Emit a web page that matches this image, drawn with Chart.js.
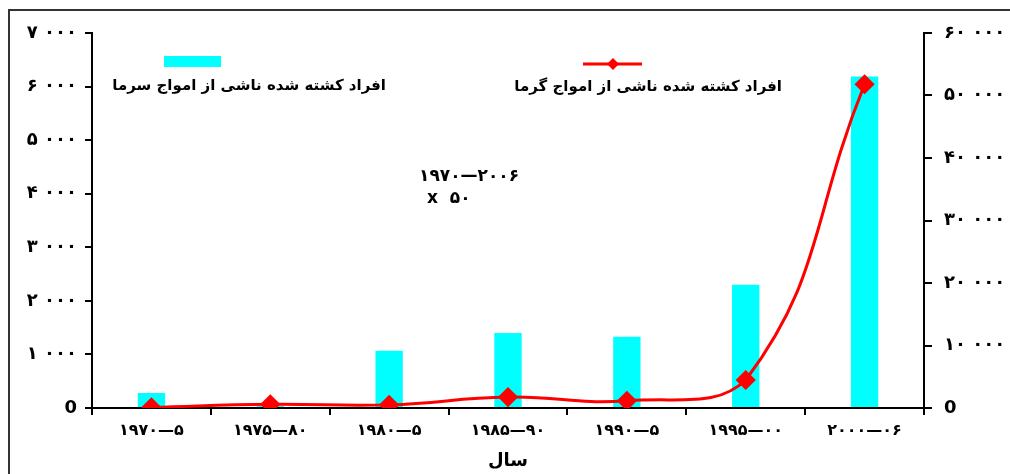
<!DOCTYPE html>
<html>
<head>
<meta charset="utf-8">
<script src="https://cdn.jsdelivr.net/npm/chart.js@4.4.0/dist/chart.umd.min.js"></script>
<style>
  html, body { margin: 0; padding: 0; background: #fff; overflow: hidden; }
  #wrap { width: 1010px; height: 474px; position: relative; }
</style>
</head>
<body>
<div id="wrap"><canvas id="chart"></canvas></div>
<script>
// data
var categories = ['۱۹۷۰—۵', '۱۹۷۵—۸۰', '۱۹۸۰—۵', '۱۹۸۵—۹۰', '۱۹۹۰—۵', '۱۹۹۵—۰۰', '۲۰۰۰—۰۶'];
var coldDeaths = [280, 40, 1070, 1400, 1330, 2300, 6190];
var heatDeaths = [100, 600, 500, 1750, 1150, 4480, 51800];
var leftTicks = ['0', '۱ ۰۰۰', '۲ ۰۰۰', '۳ ۰۰۰', '۴ ۰۰۰', '۵ ۰۰۰', '۶ ۰۰۰', '۷ ۰۰۰'];
var rightTicks = ['0', '۱۰ ۰۰۰', '۲۰ ۰۰۰', '۳۰ ۰۰۰', '۴۰ ۰۰۰', '۵۰ ۰۰۰', '۶۰ ۰۰۰'];
var coldName = 'افراد کشته شده ناشی از امواج سرما';
var heatName = 'افراد کشته شده ناشی از امواج گرما';
var noteLines = ['۱۹۷۰—۲۰۰۶', 'x  ۵۰'];
var xTitle = 'سال';

var FONT = '"DejaVu Sans", sans-serif';

var extras = {
    id: 'extras',
    beforeDraw: function (chart) {
        var c = chart.ctx;
        c.save();
        c.fillStyle = '#fff';
        c.fillRect(0, 0, chart.width, chart.height);
        // frame (left and top only, the rest is cut off)
        c.strokeStyle = '#333';
        c.lineWidth = 2;
        c.beginPath();
        c.moveTo(9, 474);
        c.lineTo(9, 10);
        c.lineTo(1010, 10);
        c.stroke();
        c.restore();
    },
    afterDraw: function (chart) {
        var c = chart.ctx;
        c.save();
        // legend: cold
        c.fillStyle = '#00ffff';
        c.fillRect(164, 56, 57, 11);
        // legend: heat
        c.strokeStyle = '#ff0000';
        c.lineWidth = 3;
        c.beginPath();
        c.moveTo(583, 64);
        c.lineTo(642, 64);
        c.stroke();
        c.fillStyle = '#ff0000';
        c.beginPath();
        c.moveTo(613, 58); c.lineTo(619, 64); c.lineTo(613, 70); c.lineTo(607, 64);
        c.closePath();
        c.fill();

        c.fillStyle = '#000';
        c.font = 'bold 15px ' + FONT;
        c.textBaseline = 'middle';
        c.direction = 'rtl';
        c.textAlign = 'right';
        c.fillText(coldName, 386, 86);
        c.fillText(heatName, 782, 87);

        c.direction = 'ltr';
        c.textAlign = 'left';
        c.font = 'bold 17px ' + FONT;
        c.fillText(noteLines[0], 419, 177);
        c.fillText(noteLines[1], 427, 199);
        c.restore();
    }
};

var ctx = document.getElementById('chart');
var chart = new Chart(ctx, {
    type: 'bar',
    data: {
        labels: categories,
        datasets: [
            {
                type: 'line',
                label: heatName,
                data: heatDeaths,
                yAxisID: 'y2',
                borderColor: '#ff0000',
                backgroundColor: '#ff0000',
                borderWidth: 3,
                pointStyle: 'rectRot',
                pointRadius: 8,
                pointHoverRadius: 8,
                tension: 0.45,
                order: 0
            },
            {
                type: 'bar',
                label: coldName,
                data: coldDeaths,
                yAxisID: 'y',
                backgroundColor: '#00ffff',
                categoryPercentage: 1,
                barPercentage: 0.23,
                order: 1
            }
        ]
    },
    options: {
        responsive: true,
        maintainAspectRatio: false,
        animation: false,
        devicePixelRatio: 1,
        layout: { padding: { left: 0, right: 0, top: 33, bottom: 0 } },
        plugins: {
            legend: { display: false },
            tooltip: { enabled: false }
        },
        scales: {
            x: {
                grid: { display: true, drawOnChartArea: false, color: '#000', lineWidth: 2, tickLength: 7, offset: true },
                border: { display: true, color: '#000', width: 2 },
                ticks: { color: '#000', font: { family: FONT, size: 16, weight: 'bold' }, padding: 6, maxRotation: 0 },
                title: { display: true, text: xTitle, color: '#000', font: { family: FONT, size: 18, weight: 'bold' }, padding: { top: 0, bottom: 2 } },
                afterFit: function (s) { s.height = 66; }
            },
            y: {
                position: 'left',
                min: 0, max: 7000,
                ticks: {
                    stepSize: 1000,
                    color: '#000',
                    font: { family: FONT, size: 18, weight: 'bold' },
                    padding: 8,
                    callback: function (v, i) { return leftTicks[i]; }
                },
                grid: { display: true, drawOnChartArea: false, color: '#000', lineWidth: 2, tickLength: 7 },
                border: { display: true, color: '#000', width: 2 },
                afterFit: function (s) { s.width = 92; }
            },
            y2: {
                position: 'right',
                min: 0, max: 60000,
                ticks: {
                    stepSize: 10000,
                    color: '#000',
                    font: { family: FONT, size: 18, weight: 'bold' },
                    padding: 12,
                    callback: function (v, i) { return rightTicks[i]; }
                },
                grid: { display: true, drawOnChartArea: false, color: '#000', lineWidth: 2, tickLength: 8 },
                border: { display: true, color: '#000', width: 2 },
                afterFit: function (s) { s.width = 86; }
            }
        }
    },
    plugins: [extras]
});
</script>
</body>
</html>
